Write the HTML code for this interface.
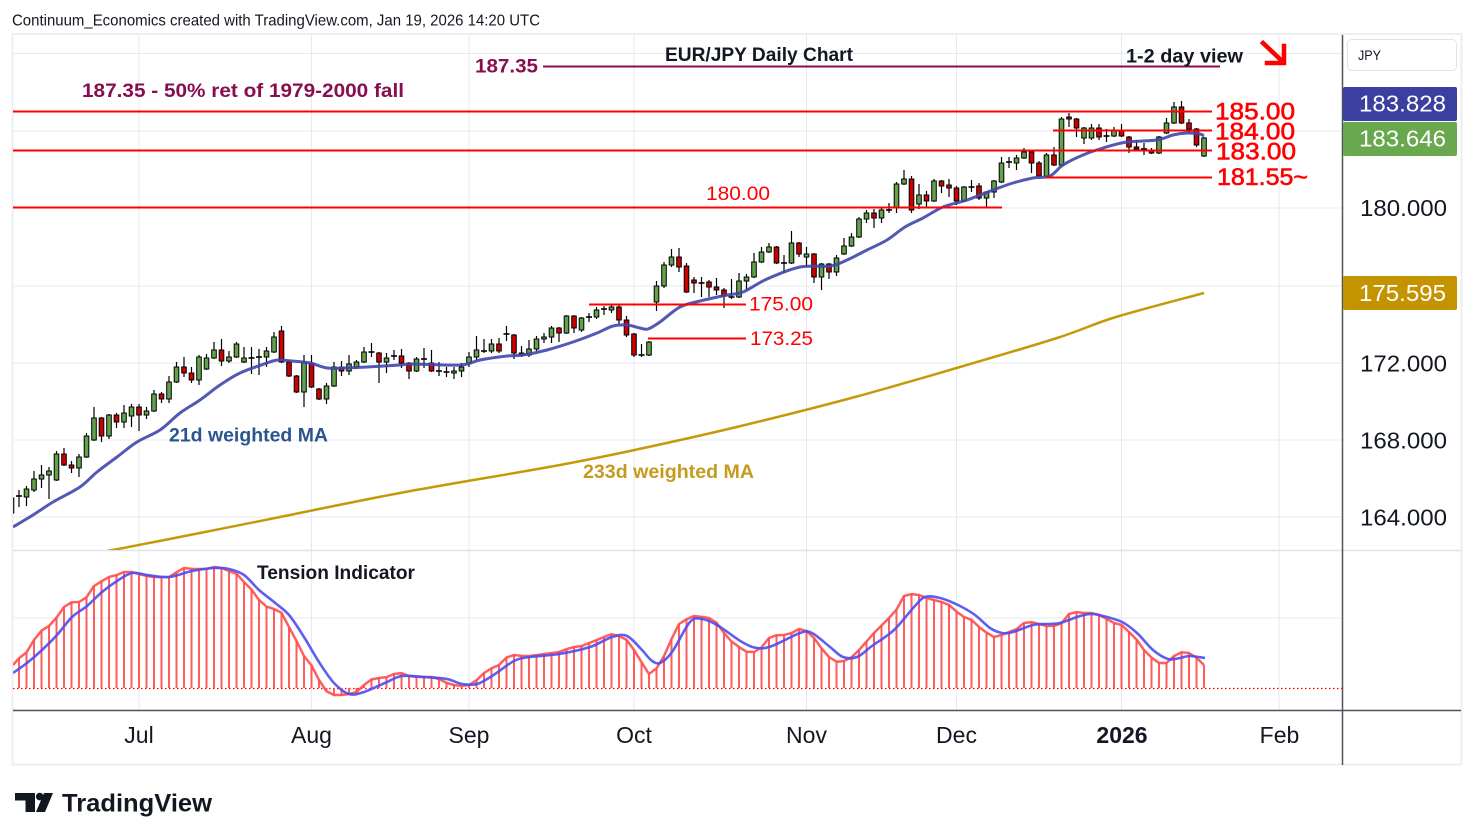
<!DOCTYPE html>
<html><head><meta charset="utf-8">
<style>
html,body{margin:0;padding:0;background:#fff;}
svg{display:block;}
text{font-family:"Liberation Sans",sans-serif;}
</style></head><body>
<svg id="s" xmlns="http://www.w3.org/2000/svg" width="1475" height="840" viewBox="0 0 1475 840">
<rect width="1475" height="840" fill="#fff"/>
<defs>
<clipPath id="mp"><rect x="13" y="35" width="1329" height="515"/></clipPath>
<clipPath id="ip"><rect x="13" y="551" width="1329" height="159"/></clipPath>
</defs>
<rect x="12.5" y="34" width="1449" height="730.5" fill="none" stroke="#eeeeee" stroke-width="2"/>
<g id="grid" stroke="#e4eaf1" stroke-width="1"></g>
<line x1="13" y1="550.5" x2="1461" y2="550.5" stroke="#e0e3eb" stroke-width="1.5"/>
<line x1="13" y1="710.5" x2="1461" y2="710.5" stroke="#50535e" stroke-width="1.5"/>
<line x1="1342.5" y1="35" x2="1342.5" y2="765" stroke="#50535e" stroke-width="1.5"/>

<g id="main" clip-path="url(#mp)"></g>
<g id="ind" clip-path="url(#ip)"></g>

<!-- annotation lines -->
<g stroke-width="2" fill="none">
<line x1="543" y1="66.5" x2="1220" y2="66.5" stroke="#880e4f"/>
<line x1="13" y1="111.5" x2="1212" y2="111.5" stroke="#ff0000"/>
<line x1="1053" y1="130.5" x2="1212" y2="130.5" stroke="#ff0000"/>
<line x1="13" y1="150.5" x2="1212" y2="150.5" stroke="#ff0000"/>
<line x1="1046" y1="177.5" x2="1212" y2="177.5" stroke="#ff0000"/>
<line x1="13" y1="207.5" x2="1002" y2="207.5" stroke="#ff0000"/>
<line x1="589" y1="304.5" x2="746" y2="304.5" stroke="#ff0000"/>
<line x1="648" y1="338.5" x2="746" y2="338.5" stroke="#ff0000"/>
</g>
<!-- arrow -->
<g stroke="#ff0000" stroke-width="4.5" stroke-linecap="square" fill="none">
<line x1="1263" y1="43" x2="1283" y2="62"/>
<polyline points="1284,46 1284,63 1267,63"/>
</g>

<!-- texts -->
<text x="12" y="25.5" font-size="16" fill="#131722" textLength="528" lengthAdjust="spacingAndGlyphs">Continuum_Economics created with TradingView.com, Jan 19, 2026 14:20 UTC</text>
<text x="82" y="97" font-size="19" font-weight="bold" fill="#880e4f" textLength="322" lengthAdjust="spacingAndGlyphs">187.35 - 50% ret of 1979-2000 fall</text>
<text x="475" y="72.5" font-size="19" font-weight="bold" fill="#880e4f" textLength="63" lengthAdjust="spacingAndGlyphs">187.35</text>
<text x="665" y="61" font-size="19" font-weight="bold" fill="#131722" textLength="188" lengthAdjust="spacingAndGlyphs">EUR/JPY Daily Chart</text>
<text x="1126" y="62.5" font-size="19" font-weight="bold" fill="#131722" textLength="117" lengthAdjust="spacingAndGlyphs">1-2 day view</text>

<g font-size="24" fill="#ff0000" stroke="#ff0000" stroke-width="0.6">
<text x="1215" y="119.5" textLength="80" lengthAdjust="spacingAndGlyphs">185.00</text>
<text x="1215" y="139.5" textLength="80" lengthAdjust="spacingAndGlyphs">184.00</text>
<text x="1216" y="159.5" textLength="80" lengthAdjust="spacingAndGlyphs">183.00</text>
<text x="1217" y="185" textLength="91" lengthAdjust="spacingAndGlyphs">181.55~</text>
</g>
<g font-size="19" fill="#ff0000">
<text x="706" y="200" textLength="64" lengthAdjust="spacingAndGlyphs">180.00</text>
<text x="749" y="310.5" textLength="64" lengthAdjust="spacingAndGlyphs">175.00</text>
<text x="750" y="345" textLength="63" lengthAdjust="spacingAndGlyphs">173.25</text>
</g>
<text x="169" y="441.5" font-size="19" font-weight="bold" fill="#2c5491" textLength="159" lengthAdjust="spacingAndGlyphs">21d weighted MA</text>
<text x="583" y="478" font-size="19" font-weight="bold" fill="#c49b1f" textLength="171" lengthAdjust="spacingAndGlyphs">233d weighted MA</text>
<text x="257" y="579" font-size="19" font-weight="bold" fill="#131722" textLength="158" lengthAdjust="spacingAndGlyphs">Tension Indicator</text>

<!-- price axis -->
<rect x="1347.5" y="39.5" width="109" height="31" rx="4" fill="#fff" stroke="#e0e3eb"/>
<text x="1358" y="60" font-size="14" fill="#131722" textLength="23" lengthAdjust="spacingAndGlyphs">JPY</text>
<g font-size="23" fill="#131722">
<text x="1360" y="216" textLength="87" lengthAdjust="spacingAndGlyphs">180.000</text>
<text x="1360" y="371.5" textLength="87" lengthAdjust="spacingAndGlyphs">172.000</text>
<text x="1360" y="448.5" textLength="87" lengthAdjust="spacingAndGlyphs">168.000</text>
<text x="1360" y="525.5" textLength="87" lengthAdjust="spacingAndGlyphs">164.000</text>
</g>
<rect x="1343" y="87" width="114" height="34" rx="2" fill="#3b3f9f"/>
<rect x="1343" y="122" width="114" height="34" rx="2" fill="#6aa84f"/>
<rect x="1343" y="276" width="114" height="34" rx="2" fill="#c49300"/>
<g font-size="23" fill="#ffffff">
<text x="1359" y="111.5" textLength="87" lengthAdjust="spacingAndGlyphs">183.828</text>
<text x="1359" y="146.5" textLength="87" lengthAdjust="spacingAndGlyphs">183.646</text>
<text x="1359" y="301" textLength="87" lengthAdjust="spacingAndGlyphs">175.595</text>
</g>

<!-- time axis -->
<g font-size="23" fill="#131722" text-anchor="middle">
<text x="139" y="743">Jul</text>
<text x="311.5" y="743">Aug</text>
<text x="469" y="743">Sep</text>
<text x="634" y="743">Oct</text>
<text x="806.5" y="743">Nov</text>
<text x="956.5" y="743">Dec</text>
<text x="1122" y="743" font-weight="bold">2026</text>
<text x="1279.5" y="743">Feb</text>
</g>

<!-- TradingView logo -->
<g fill="#131722">
<path d="M15,793 H35 V812 H25.5 V800.5 H15 Z"/>
<circle cx="39.7" cy="796.6" r="3.8"/>
<path d="M44,793 H53 L45,812 H36 Z"/>
<text x="62" y="811.5" font-size="25" font-weight="bold" textLength="150" lengthAdjust="spacingAndGlyphs">TradingView</text>
</g>
</svg>
<script>
(function(){
var NS='http://www.w3.org/2000/svg';
function el(parent,tag,attrs){var e=document.createElementNS(NS,tag);for(var k in attrs)e.setAttribute(k,attrs[k]);parent.appendChild(e);return e;}
var grid=document.getElementById('grid');
[53.5,131,208,286,363,440,517].forEach(function(y){el(grid,'line',{x1:13,y1:y,x2:1342,y2:y});});
el(grid,'line',{x1:13,y1:618,x2:1342,y2:618});
[139,311.5,469,634,806.5,956.5,1121.5,1279].forEach(function(x){el(grid,'line',{x1:x,y1:35,x2:x,y2:710});});

function smooth(p){var d='M'+p[0][0]+','+p[0][1];for(var i=0;i<p.length-1;i++){var p0=p[i-1]||p[i],p1=p[i],p2=p[i+1],p3=p[i+2]||p2;var c1x=p1[0]+(p2[0]-p0[0])/6,c1y=p1[1]+(p2[1]-p0[1])/6,c2x=p2[0]-(p3[0]-p1[0])/6,c2y=p2[1]-(p3[1]-p1[1])/6;d+=' C'+c1x.toFixed(1)+','+c1y.toFixed(1)+' '+c2x.toFixed(1)+','+c2y.toFixed(1)+' '+p2[0]+','+p2[1];}return d;}
function interp(p,x){if(x<=p[0][0])return p[0][1];for(var i=1;i<p.length;i++){if(x<=p[i][0]){var a=p[i-1],b=p[i];return a[1]+(b[1]-a[1])*(x-a[0])/(b[0]-a[0]);}}return p[p.length-1][1];}

var main=document.getElementById('main');
var gold=[[95,553],[113,550],[200,533],[280,517],[400,493],[560,465],[653,446],[745,425],[855,397],[960,367],[1057,338],[1116,317],[1204,293]];
el(main,'path',{d:smooth(gold),fill:'none',stroke:'#c49a0a','stroke-width':2.5});

var C=[[-17,'g',498,513,496,515],[-16,'d',496,496,490,507],[-15,'g',489,497,486,506],[-14,'g',479,490,471,492],[-13,'g',475,479,465,488],[-12,'g',471,475,467,499],[-11,'g',454,480,451,481],[-10,'r',454,465,448,466],[-9,'r',465,468,461,473],[-8,'g',457,468,454,477],[-7,'g',436,457,433,458],[-6,'g',418,440,407,441],[-5,'r',418,436,417,442],[-4,'g',415,436,414,439],[-3,'r',415,422,413,428],[-2,'g',413,422,405,428],[-1,'g',407,416,404,427],
[0,'r',407,415,404,431],[1,'g',411,415,407,419],[2,'g',394,411,390,412],[3,'r',394,399,392,403],[4,'g',382,399,376,403],[5,'g',367,382,362,383],[6,'r',367,373,357,377],[7,'r',373,380,367,383],[8,'g',357,380,355,385],[9,'g',358,369,354,370],[10,'g',350,358,342,359],[11,'r',350,361,339,366],[12,'g',357,361,351,363],[13,'g',344,357,342,358],[14,'g',358,362,347,363],[15,'d',358,358,347,374],[16,'d',357,357,349,375],[17,'g',351,357,347,367],[18,'g',337,352,332,353],[19,'r',331,362,326,363],[20,'r',362,376,360,377],[21,'r',376,392,375,393],[22,'g',363,392,355,407],[23,'r',363,387,355,388],[24,'r',389,399,388,400],[25,'g',386,399,383,404],[26,'g',367,386,362,387],[27,'r',367,371,361,376],[28,'g',364,371,355,375],[29,'g',362,367,360,369],[30,'g',352,362,347,363],[31,'d',352,352,343,357],[32,'r',353,362,352,383],[33,'g',358,362,353,373],[34,'d',356,356,350,360],[35,'r',356,363,349,368],[36,'r',363,371,362,379],[37,'g',359,371,357,372],[38,'d',359,359,348,368],[39,'r',363,371,350,372],[40,'d',371,371,362,376],[41,'d',372,372,367,377],[42,'g',371,373,367,379],[43,'g',367,371,363,377],[44,'g',357,363,352,367],[45,'g',350,357,336,360],[46,'d',351,351,339,353],[47,'g',344,351,339,353],[48,'r',344,351,338,353],[49,'d',334,334,326,341],[50,'r',335,353,334,359],[51,'r',353,355,346,357],[52,'g',349,355,340,357],[53,'g',339,349,336,351],[54,'g',337,339,333,343],[55,'g',328,337,326,343],[56,'r',328,333,327,342],[57,'g',316,333,315,334],[58,'r',316,328,315,333],[59,'g',318,330,317,332],[60,'d',317,317,313,322],[61,'g',310,317,307,319],[62,'d',309,309,306,315],[63,'g',307,310,305,313],[64,'r',307,320,305,324],[65,'r',320,335,316,337],[66,'r',334,355,333,357],[67,'d',355,355,344,357],[68,'g',342,355,341,356],[69,'g',286,302,281,311],[70,'g',265,286,262,288],[71,'g',257,265,249,267],[72,'r',257,267,248,272],[73,'r',266,292,263,293],[74,'r',280,283,277,293],[75,'d',283,283,277,297],[76,'r',282,287,280,297],[77,'r',287,290,278,295],[78,'r',290,296,288,308],[79,'d',297,297,279,299],[80,'g',281,297,273,298],[81,'g',277,281,274,290],[82,'g',262,277,253,278],[83,'g',252,262,247,263],[84,'g',247,252,243,253],[85,'r',247,263,246,264],[86,'d',263,263,255,273],[87,'g',243,263,231,264],[88,'r',243,254,242,257],[89,'g',254,257,247,267],[90,'r',254,277,253,283],[91,'g',264,277,263,290],[92,'r',264,272,263,279],[93,'g',258,272,255,276],[94,'g',246,254,238,255],[95,'g',237,246,233,247],[96,'g',219,237,217,238],[97,'g',213,219,210,223],[98,'r',213,218,209,228],[99,'g',210,218,207,223],[100,'d',210,210,203,213],[101,'g',184,207,182,213],[102,'g',179,184,170,185],[103,'r',179,210,176,213],[104,'g',195,204,184,209],[105,'r',195,201,191,207],[106,'g',181,201,179,202],[107,'r',181,186,180,193],[108,'r',185,188,179,197],[109,'r',188,201,186,205],[110,'g',187,201,186,202],[111,'d',187,187,180,192],[112,'r',186,198,183,200],[113,'g',192,198,191,207],[114,'g',181,192,180,198],[115,'g',163,182,157,183],[116,'d',162,162,157,168],[117,'g',158,163,155,170],[118,'g',152,158,148,159],[119,'r',152,163,150,173],[120,'r',163,176,161,177],[121,'g',155,176,153,178],[122,'r',155,165,147,166],[123,'g',119,165,117,166],[124,'r',117,119,113,127],[125,'r',119,128,118,137],[126,'g',128,138,127,144],[127,'g',128,138,124,140],[128,'r',128,137,124,140],[129,'d',136,136,129,142],[130,'g',130,136,127,137],[131,'r',130,136,124,137],[132,'r',137,147,136,153],[133,'r',147,149,140,151],[134,'d',149,149,143,155],[135,'r',150,153,148,154],[136,'g',137,153,136,154],[137,'g',123,133,118,134],[138,'g',107,123,102,124],[139,'r',107,123,101,124],[140,'r',123,129,119,133],[141,'r',129,145,128,147],[142,'g',138,156,137,157]];
var cg=el(main,'g',{});
C.forEach(function(c){
  var x=139+7.5*c[0];
  el(cg,'line',{x1:x,y1:c[4],x2:x,y2:c[5],stroke:'#000','stroke-width':1.2});
  if(c[1]==='d'){
    el(cg,'line',{x1:x-3,y1:c[2],x2:x+3,y2:c[2],stroke:'#000','stroke-width':1.6});
  } else {
    var h=Math.max(c[3]-c[2],1.5);
    el(cg,'rect',{x:x-2.3,y:c[2],width:4.6,height:h,fill:c[1]==='g'?'#62a24c':'#cc0000',stroke:'#000','stroke-width':1});
  }
});
var blue=[[13,527],[33,515],[53,502],[80,487],[97,472],[117,457],[137,442],[160,430],[180,413],[200,400],[220,385],[240,373],[267,363],[278,360],[292,361],[310,363],[327,368],[343,368],[367,367],[400,365],[413,364],[460,365],[480,360],[507,356],[523,355],[547,350],[573,342],[597,333],[613,326],[627,325],[640,328],[648,329],[660,322],[680,307],[700,301],[727,295],[743,292],[767,279],[800,267],[830,266],[847,260],[867,250],[887,240],[905,227],[923,218],[943,207],[967,200],[993,190],[1013,183],[1033,178],[1050,176],[1063,165],[1083,155],[1103,148],[1127,142],[1157,140],[1173,135],[1187,133],[1200,134],[1204,136]];
el(main,'path',{d:smooth(blue),fill:'none',stroke:'#4046ab','stroke-width':3,'stroke-opacity':0.9,'stroke-linejoin':'round'});

var ind=document.getElementById('ind');
var red=[[13,665],[18,659],[27,652],[34,640],[42,630],[49,626],[57,617],[64,607],[72,602],[79,602],[87,597],[94,586],[102,581],[109,577],[117,575],[124,572],[132,572],[139,574],[147,576],[154,577],[162,577],[169,577],[177,572],[184,568],[192,569],[199,569],[207,569],[214,567],[222,568],[229,571],[237,574],[244,582],[252,590],[259,600],[267,607],[274,609],[282,613],[289,627],[297,642],[304,656],[312,666],[319,680],[327,692],[334,695],[342,695],[349,694],[357,692],[364,685],[372,679],[379,678],[387,677],[394,674],[402,673],[409,676],[417,677],[424,677],[432,677],[439,679],[447,683],[454,685],[462,686],[469,685],[477,680],[484,673],[492,668],[499,665],[507,657],[514,655],[522,656],[529,656],[537,655],[544,654],[552,653],[559,652],[567,649],[574,647],[582,646],[589,643],[597,640],[604,637],[612,634],[619,636],[627,640],[634,650],[642,663],[649,674],[657,668],[664,656],[672,638],[679,624],[687,619],[694,616],[702,617],[709,618],[717,623],[724,633],[732,642],[739,647],[747,652],[754,652],[762,647],[769,638],[777,635],[784,635],[792,633],[799,629],[807,631],[814,638],[822,649],[829,657],[837,662],[844,661],[852,657],[859,650],[867,641],[874,633],[882,625],[889,618],[897,609],[904,596],[912,594],[919,595],[927,598],[934,600],[942,602],[949,605],[957,612],[964,617],[972,620],[979,627],[987,633],[994,637],[1002,635],[1009,632],[1017,629],[1024,623],[1032,622],[1039,624],[1047,626],[1054,626],[1062,623],[1069,614],[1077,612],[1084,613],[1092,613],[1099,615],[1107,619],[1114,623],[1122,625],[1129,632],[1137,640],[1144,650],[1152,658],[1159,663],[1167,663],[1174,656],[1182,652],[1189,653],[1197,658],[1204,665]];
el(ind,'line',{x1:13,y1:688.5,x2:1342,y2:688.5,stroke:'#ff0000','stroke-width':1.2,'stroke-dasharray':'1.5 2.5'});
var hg=el(ind,'g',{stroke:'#ff4d4d','stroke-width':2,'stroke-opacity':0.9});
var rp=[];
for(var k=-16;k<=142;k++){
  var x=139+7.5*k; var y=interp(red,x);
  el(hg,'line',{x1:x,y1:688,x2:x,y2:y.toFixed(1)});
  rp.push(x+','+y.toFixed(1));
}
el(ind,'polyline',{points:'13,665 '+rp.join(' '),fill:'none',stroke:'#ff4d4d','stroke-width':2.5,'stroke-opacity':0.9,'stroke-linejoin':'round'});
var tb=[[13,673],[27,663],[42,650],[57,635],[72,617],[87,606],[102,592],[117,581],[132,573],[147,575],[169,577],[192,571],[214,568],[229,569],[244,575],[259,590],[274,602],[289,615],[304,637],[319,662],[334,683],[349,694],[364,692],[387,682],[402,676],[424,677],[447,679],[462,684],[477,684],[492,676],[514,661],[530,657],[559,654],[590,647],[612,637],[627,636],[642,650],[651,660],[660,663],[672,652],[690,622],[702,619],[717,625],[742,642],[757,648],[772,646],[800,633],[812,633],[830,647],[843,657],[857,657],[872,646],[894,630],[914,607],[925,597],[940,598],[958,605],[975,615],[990,628],[1002,633],[1013,632],[1033,625],[1047,624],[1060,623],[1080,616],[1092,614],[1103,616],[1122,622],[1137,633],[1153,650],[1168,659],[1180,658],[1190,656],[1205,658]];
el(ind,'path',{d:smooth(tb),fill:'none',stroke:'#4d4df2','stroke-width':2.6,'stroke-opacity':0.9});
})();
</script>
</body></html>
